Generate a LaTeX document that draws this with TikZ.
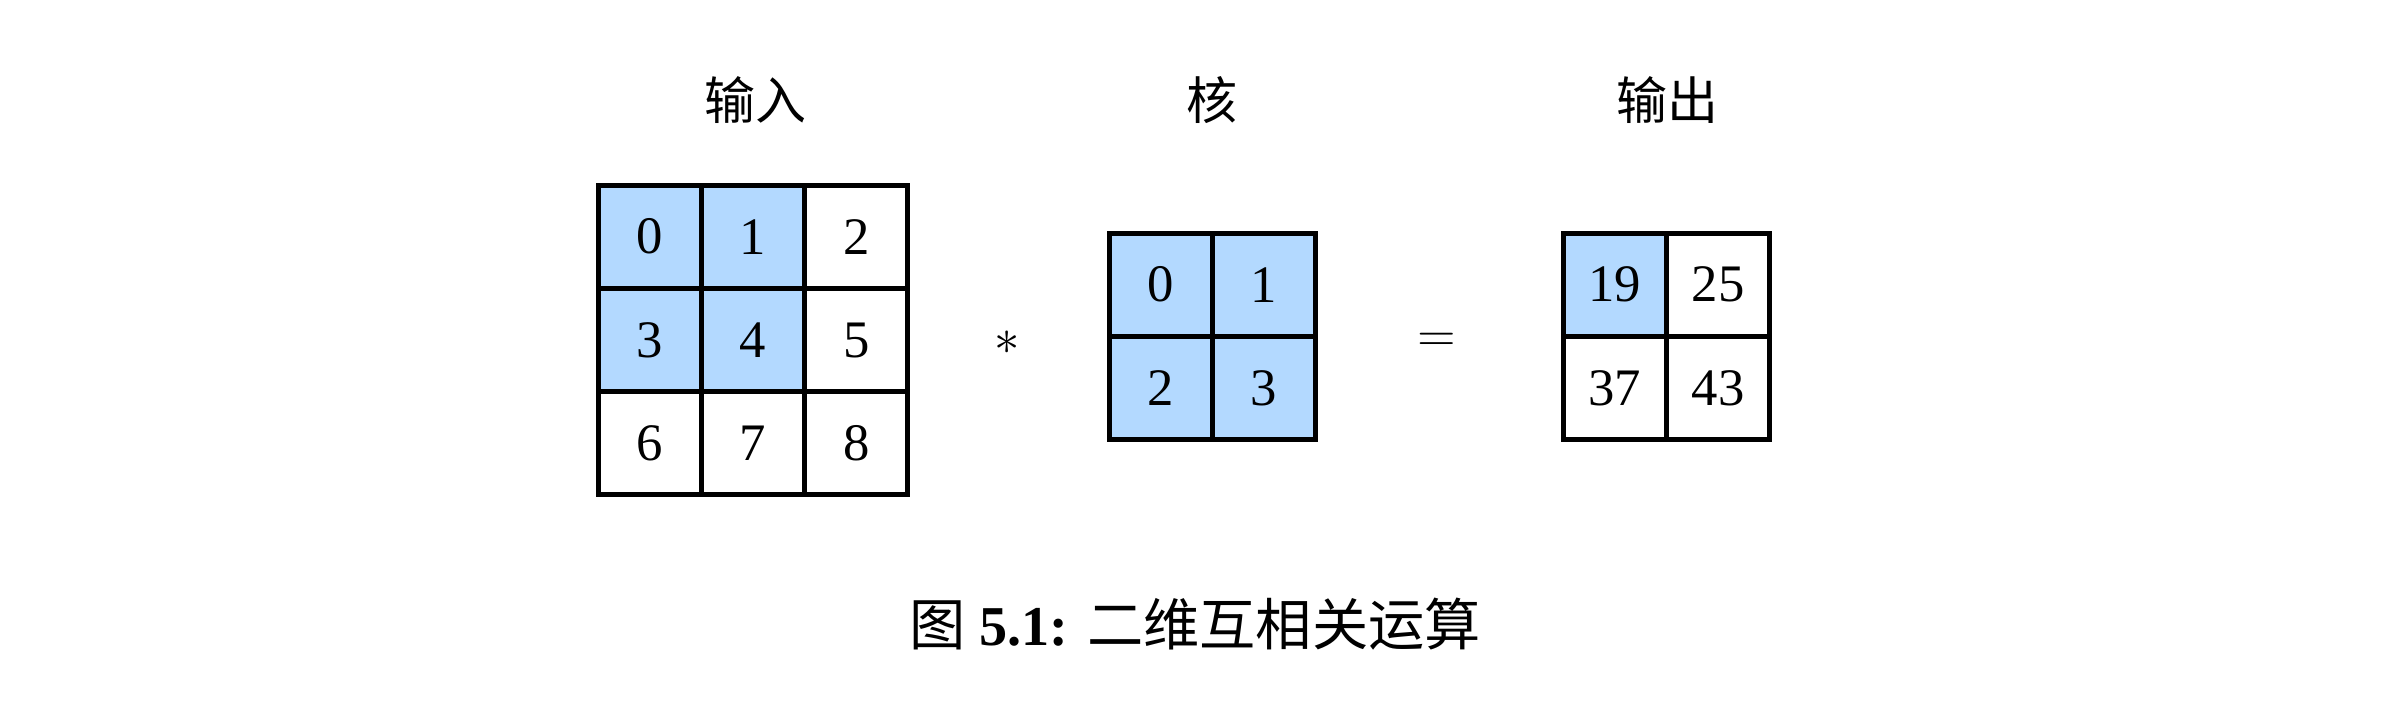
\documentclass[tikz,border=0pt]{standalone}
\usepackage{fontspec}
\setmainfont{Liberation Serif}
\newfontfamily\cjk{Noto Sans CJK SC}
\definecolor{cellblue}{RGB}{179,217,255}
\tikzset{
  cell/.style={draw, line width=1.4pt, minimum size=1.033cm, inner sep=0pt,
               font=\fontsize{15}{15}\selectfont},
  hot/.style={cell, fill=cellblue},
  title/.style={font=\cjk\fontsize{14.5}{16}\selectfont},
  op/.style={font=\fontsize{15}{15}\selectfont},
}
\begin{document}
\begin{tikzpicture}
  \useasboundingbox (0,0) rectangle (23.92,7.12);

  % input 3x3
  \foreach \v/\c/\r/\s in {0/0/0/hot, 1/1/0/hot, 2/2/0/cell,
                           3/0/1/hot, 4/1/1/hot, 5/2/1/cell,
                           6/0/2/cell, 7/1/2/cell, 8/2/2/cell}
    \node[\s] (in-\v) at ({6.497+1.033*\c},{4.753-1.033*\r}) {\v};

  % kernel 2x2
  \foreach \v/\c/\r in {0/0/0, 1/1/0, 2/0/1, 3/1/1}
    \node[hot] (ker-\v) at ({11.607+1.033*\c},{4.273-1.033*\r}) {\v};

  % output 2x2
  \foreach \v/\c/\r/\s in {19/0/0/hot, 25/1/0/cell, 37/0/1/cell, 43/1/1/cell}
    \node[\s] (out-\v) at ({16.147+1.033*\c},{4.273-1.033*\r}) {\v};

  % titles
  \node[title] (in-title)  at (7.55,6.12)  {输入};
  \node[title] (ker-title) at (12.12,6.12) {核};
  \node[title] (out-title) at (16.67,6.12) {输出};

  % operators
  \node[op] (times) at (10.07,3.69) {$*$};
  \node[op] (equals) at (14.37,3.70) {$=$};

  % caption
  \node[font=\fontsize{16}{18}\selectfont] (caption) at (11.95,0.88)
    {{\cjk 图} \textbf{5.1:} {\cjk 二维互相关运算}};
\end{tikzpicture}
\end{document}
